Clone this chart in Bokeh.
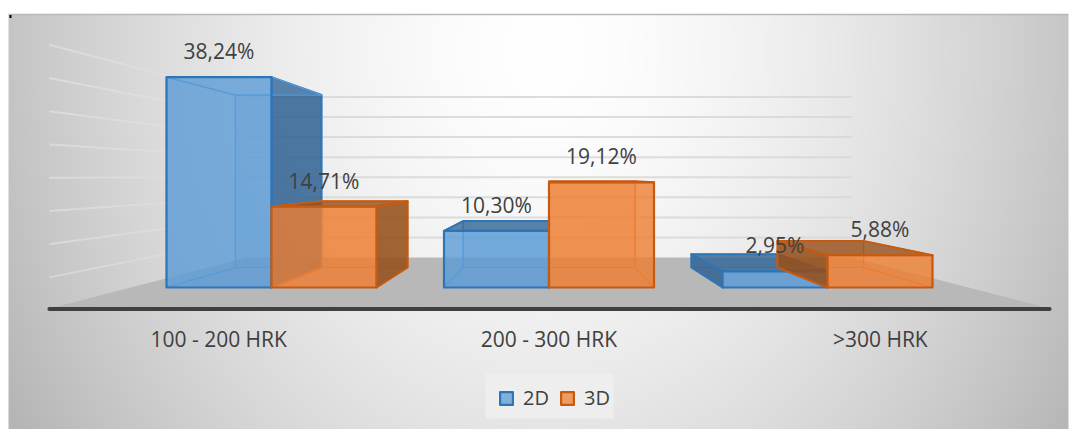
import numpy as np
from bokeh.plotting import figure
from bokeh.embed import file_html
from bokeh.resources import INLINE
from bokeh.core.properties import value
from bokeh.models import Legend, LegendItem

categories = ["100 - 200 HRK", "200 - 300 HRK", ">300 HRK"]
series_names = ["2D", "3D"]
values_2d = [38.24, 10.30, 2.95]
values_3d = [14.71, 19.12, 5.88]
labels_2d = ["38,24%", "10,30%", "2,95%"]
labels_3d = ["14,71%", "19,12%", "5,88%"]
grid_ticks = [5, 10, 15, 20, 25, 30, 35, 40]

# page-pixel geometry of the perspective drawing
W, H = 1076, 429
VX, VY = 549.0, 176.0      # vanishing point
BASE = 287.0               # front plane baseline
PX_PER = 5.5               # pixels per percent on the front plane
CENTERS = [271.0, 548.5, 827.0]
BACK, WALL, NEAR, AXIS = 0.82, 0.73, 1.208, 1.19
WALL_L, WALL_R = 135.0, 963.0

def sx(x, s=1.0):
    return VX + (x - VX) * s

def sy(v, s=1.0):
    return H - (VY + (BASE - v * PX_PER - VY) * s)

p = figure(width=W, height=H, x_range=(0, W), y_range=(0, H),
           output_backend="svg", toolbar_location=None, min_border=0,
           background_fill_color="white", border_fill_color="white",
           outline_line_color=None)
p.axis.visible = False
p.grid.visible = False

# chart-area gradient
gw, gh = 530, 208
xx, yy = np.meshgrid(np.linspace(8, 1068, gw), np.linspace(429, 14, gh))
d = np.sqrt(((xx - 545) / 545) ** 2 + ((yy - 50) / 640) ** 2)
g = np.clip(255 - 60 * np.clip(d, 0, 1.15) ** 1.6, 0, 255).astype(np.uint8)
img = np.zeros((gh, gw), dtype=np.uint32)
view = img.view(dtype=np.uint8).reshape((gh, gw, 4))
view[..., 0] = g; view[..., 1] = g; view[..., 2] = g; view[..., 3] = 255
p.image_rgba(image=[img], x=8, y=0, dw=1060, dh=415)

# chart top edge and corner speck
p.line([8, 1068], [H - 14, H - 14], line_color="#b8b8b8", line_width=1.5)
p.rect([10], [H - 16], width=2, height=3, fill_color="black", line_color=None)

# floor
p.patch([sx(WALL_L, NEAR), sx(WALL_L, WALL), sx(WALL_R, WALL), sx(WALL_R, NEAR)],
        [H - 308, sy(0, WALL), sy(0, WALL), H - 308],
        fill_color="#b8b8b8", line_color=None)

# back-wall gridlines
for t in grid_ticks:
    p.line([sx(WALL_L, WALL), sx(WALL_R, WALL)], [sy(t, WALL), sy(t, WALL)],
           line_color="#d8d8d8", line_width=2, line_alpha=0.9)
    # left side-wall gridlines, fading toward the back corner
    n = 8
    scales = np.linspace(NEAR, WALL, n + 1)
    for i in range(n):
        s0, s1 = scales[i], scales[i + 1]
        p.line([sx(WALL_L, s0), sx(WALL_L, s1)], [sy(t, s0), sy(t, s1)],
               line_color="#eeeeee", line_width=2, line_alpha=0.45 * (1 - i / n))

BLUE = dict(fill="#5b9bd5", line="#2e75b6", inner="#5b9bd5", dark="#2f5f8f")
ORANGE = dict(fill="#ed7d31", line="#c55a11", inner="#ed7d31", dark="#8f4a17")

def face(pts, fill, alpha, line, lw):
    xs = [q[0] for q in pts]
    ys = [q[1] for q in pts]
    return p.patch(xs, ys, fill_color=fill, fill_alpha=alpha,
                   line_color=line, line_width=lw, line_join="round")

def bar(x0, x1, v, c):
    f = lambda x, val, s=1.0: (sx(x, s), sy(val, s))
    back = [f(x0, 0, BACK), f(x1, 0, BACK), f(x1, v, BACK), f(x0, v, BACK)]
    bottom = [f(x0, 0), f(x1, 0), f(x1, 0, BACK), f(x0, 0, BACK)]
    top = [f(x0, v), f(x1, v), f(x1, v, BACK), f(x0, v, BACK)]
    left = [f(x0, 0), f(x0, v), f(x0, v, BACK), f(x0, 0, BACK)]
    right = [f(x1, 0), f(x1, v), f(x1, v, BACK), f(x1, 0, BACK)]
    front = [f(x0, 0), f(x1, 0), f(x1, v), f(x0, v)]
    face(back, c["inner"], 0.35, c["inner"], 1.2)
    face(bottom, c["inner"], 0.25, c["inner"], 1.2)
    top_out = (BASE - v * PX_PER) > VY
    left_out = x0 > VX
    right_out = x1 < VX
    face(left, c["dark"] if left_out else c["inner"], 0.8 if left_out else 0.2,
         c["line"] if left_out else c["inner"], 2 if left_out else 1.2)
    face(right, c["dark"] if right_out else c["inner"], 0.8 if right_out else 0.2,
         c["line"] if right_out else c["inner"], 2 if right_out else 1.2)
    face(top, c["dark"] if top_out else c["inner"], 0.72 if top_out else 0.2,
         c["line"] if top_out else c["inner"], 2 if top_out else 1.2)
    return face(front, c["fill"], 0.75, c["line"], 2.2)

r2 = r3 = None
label_x, label_y, label_t = [], [], []
half = 105.0
for cx, v2, v3, t2, t3 in zip(CENTERS, values_2d, values_3d, labels_2d, labels_3d):
    r2 = bar(cx - half, cx, v2, BLUE)
    r3 = bar(cx, cx + half, v3, ORANGE)
    label_x += [cx - half / 2, cx + half / 2]
    label_y += [sy(v2) + 26, sy(v3) + 26]
    label_t += [t2, t3]

# axis line
p.line([sx(WALL_L, NEAR), sx(WALL_R, NEAR)], [H - 308.5, H - 308.5], line_color="#404040",
       line_width=4, line_cap="round")

FONT = value("Open Sans")
p.text(label_x, label_y, text=label_t, text_font=FONT, text_font_size="21px",
       text_color="#404040", text_align="center", text_baseline="middle")
p.text([sx(c, AXIS) for c in CENTERS], [H - 338] * 3, text=categories, text_font=FONT,
       text_font_size="21px", text_color="#404040", text_align="center", text_baseline="middle")

# legend panel
p.quad(left=[485], right=[613], bottom=[H - 418], top=[H - 373], fill_color="#eeeeee", line_color=None)

legend = Legend(items=[LegendItem(label=series_names[0], renderers=[r2]),
                       LegendItem(label=series_names[1], renderers=[r3])],
                orientation="horizontal", location=(498, 18), padding=0, margin=0,
                spacing=10, glyph_width=16, glyph_height=16, label_standoff=9,
                label_text_font="Open Sans", label_text_font_size="20px",
                label_text_color="#404040", background_fill_alpha=0.0,
                border_line_color=None)
p.add_layout(legend, "center")

open("out.html", "w").write(file_html(p, INLINE))
